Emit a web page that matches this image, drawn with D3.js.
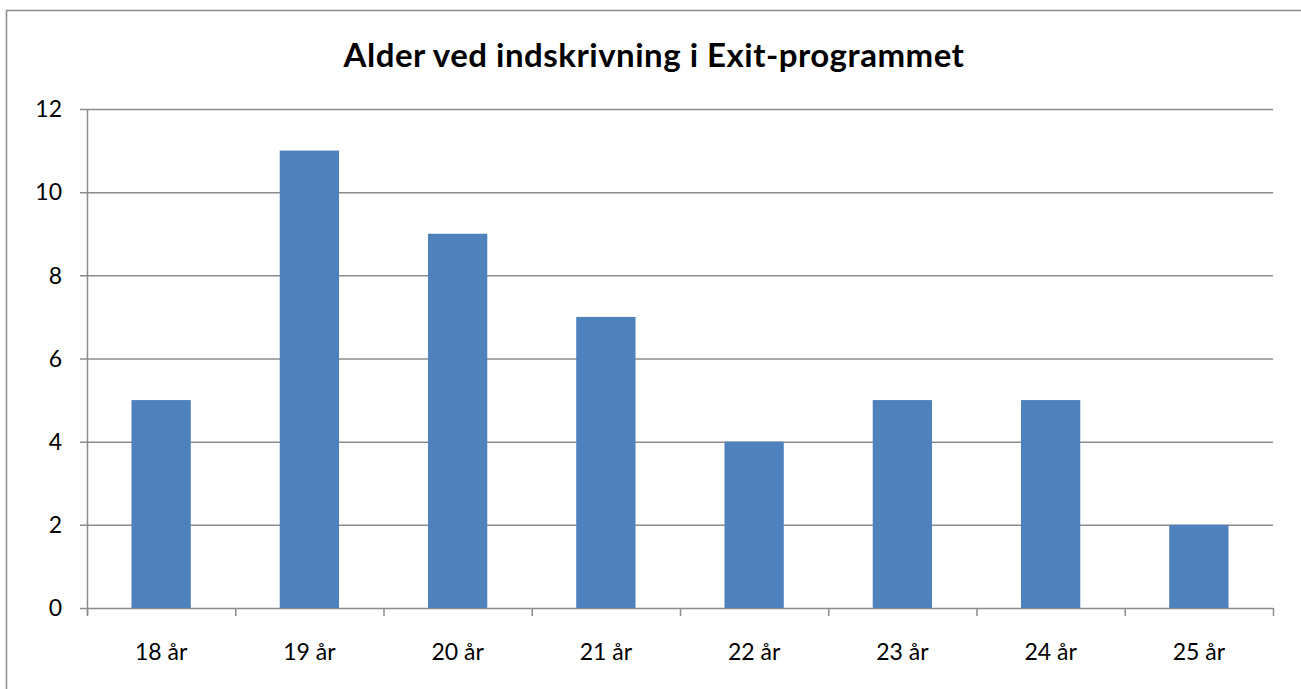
<!DOCTYPE html>
<html>
<head>
<meta charset="utf-8">
<script src="https://cdn.jsdelivr.net/npm/d3@7"></script>
<style>
  body { margin: 0; background: #fff; }
  text { font-family: Lato, "Open Sans", sans-serif; fill: #000; }
</style>
</head>
<body>
<svg id="chart" width="1301" height="689"></svg>
<script>
// chart data
let CATEGORIES = ['18 år', '19 år', '20 år', '21 år', '22 år', '23 år', '24 år', '25 år'];
let VALUES = [5, 11, 9, 7, 4, 5, 5, 2];
let Y_TICKS = [0, 2, 4, 6, 8, 10, 12];
let TITLE = 'Alder ved indskrivning i Exit-programmet';

let PLOT = { left: 87, right: 1273, top: 109, bottom: 608 };
let BAR_FILL = '#4F81BD';
let LINE_COLOR = '#8c8c8c';

let svg = d3.select('#chart');

// outer frame (runs past the right and bottom edges)
svg.append('rect')
    .attr('x', 6.5).attr('y', 10.5)
    .attr('width', 1320).attr('height', 700)
    .attr('fill', 'none')
    .attr('stroke', LINE_COLOR)
    .attr('stroke-width', 1.5);

let x = d3.scaleBand()
    .domain(CATEGORIES)
    .range([PLOT.left, PLOT.right])
    .paddingInner(0.6)
    .paddingOuter(0.3);

let y = d3.scaleLinear()
    .domain([0, 12])
    .range([PLOT.bottom, PLOT.top]);

// gridlines
svg.append('g')
    .selectAll('line')
    .data(Y_TICKS)
    .enter().append('line')
    .attr('x1', PLOT.left - 7)
    .attr('x2', PLOT.right)
    .attr('y1', d => y(d) + 0.5)
    .attr('y2', d => y(d) + 0.5)
    .attr('stroke', LINE_COLOR)
    .attr('stroke-width', 1.5);

// y axis labels
svg.append('g')
    .selectAll('text')
    .data(Y_TICKS)
    .enter().append('text')
    .attr('x', 62)
    .attr('y', d => y(d))
    .attr('dy', '0.36em')
    .attr('text-anchor', 'end')
    .attr('font-size', 23)
    .text(d => d);

// bars
svg.append('g')
    .selectAll('rect')
    .data(VALUES)
    .enter().append('rect')
    .attr('x', (d, i) => x(CATEGORIES[i]))
    .attr('y', d => y(d))
    .attr('width', x.bandwidth())
    .attr('height', d => y(0) - y(d))
    .attr('fill', BAR_FILL);

// y axis line
svg.append('line')
    .attr('x1', PLOT.left + 0.5).attr('x2', PLOT.left + 0.5)
    .attr('y1', PLOT.top).attr('y2', PLOT.bottom + 7)
    .attr('stroke', LINE_COLOR)
    .attr('stroke-width', 1.5);

// category tick marks sit between the categories
let step = (PLOT.right - PLOT.left) / CATEGORIES.length;
svg.append('g')
    .selectAll('line')
    .data(d3.range(CATEGORIES.length + 1))
    .enter().append('line')
    .attr('x1', i => PLOT.left + i * step + 0.5)
    .attr('x2', i => PLOT.left + i * step + 0.5)
    .attr('y1', PLOT.bottom)
    .attr('y2', PLOT.bottom + 8)
    .attr('stroke', LINE_COLOR)
    .attr('stroke-width', 1.5);

// category labels
svg.append('g')
    .selectAll('text')
    .data(CATEGORIES)
    .enter().append('text')
    .attr('x', d => x(d) + x.bandwidth() / 2)
    .attr('y', 660)
    .attr('text-anchor', 'middle')
    .attr('font-size', 23)
    .text(d => d);

// title
svg.append('text')
    .attr('x', 654)
    .attr('y', 67)
    .attr('text-anchor', 'middle')
    .attr('font-size', 33)
    .attr('letter-spacing', 0.5)
    .attr('font-weight', 'bold')
    .text(TITLE);
</script>
</body>
</html>
